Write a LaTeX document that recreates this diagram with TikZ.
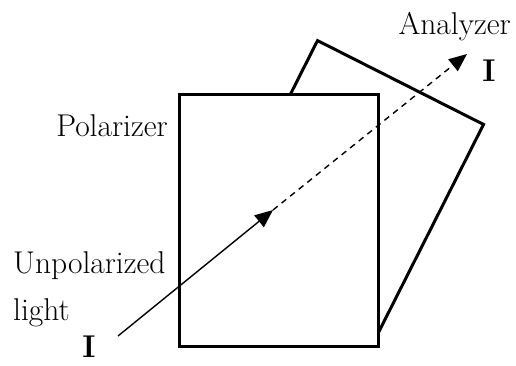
\documentclass[tikz,border=0pt]{standalone}
\usepackage{tikz}
\usetikzlibrary{arrows.meta,positioning}

\begin{document}
\begin{tikzpicture}[x=1pt,y=-1pt,
  plate/.style={draw,fill=white,line width=3pt,inner sep=0pt},
  ray/.style={line width=1.4pt,-{Triangle[length=18pt,width=15pt]}},
  lbl/.style={inner sep=0pt,font=\fontsize{31.5}{36}\selectfont}]
\useasboundingbox (0,0) rectangle (516,366);
\node[plate,minimum width=186pt,minimum height=233pt,rotate=-26.8] (An) at (348,186.5) {};
\node[plate,minimum width=199pt,minimum height=251pt] (Po) at (278.5,220.5) {};

\coordinate (src) at (118,336);
\coordinate (mid) at (273,210);
\coordinate (tip) at (467,54);
\draw[ray] (src) -- (mid);
\draw[ray,dash pattern=on 6pt off 5pt] (mid) -- (tip);

\node[lbl,anchor=base east] (ana) at (511,35) {Analyzer};
\node[lbl,anchor=base] (outI) at (489,82) {\textbf{I}};
\node[lbl,anchor=base east] (pol) at (168,137) {Polarizer};
\node[lbl,anchor=base west] (unp) at (13,273) {Unpolarized};
\node[lbl,anchor=base west] (lig) at (13,320) {light};
\node[lbl,anchor=base] (inI) at (89,357) {\textbf{I}};
\end{tikzpicture}
\end{document}
